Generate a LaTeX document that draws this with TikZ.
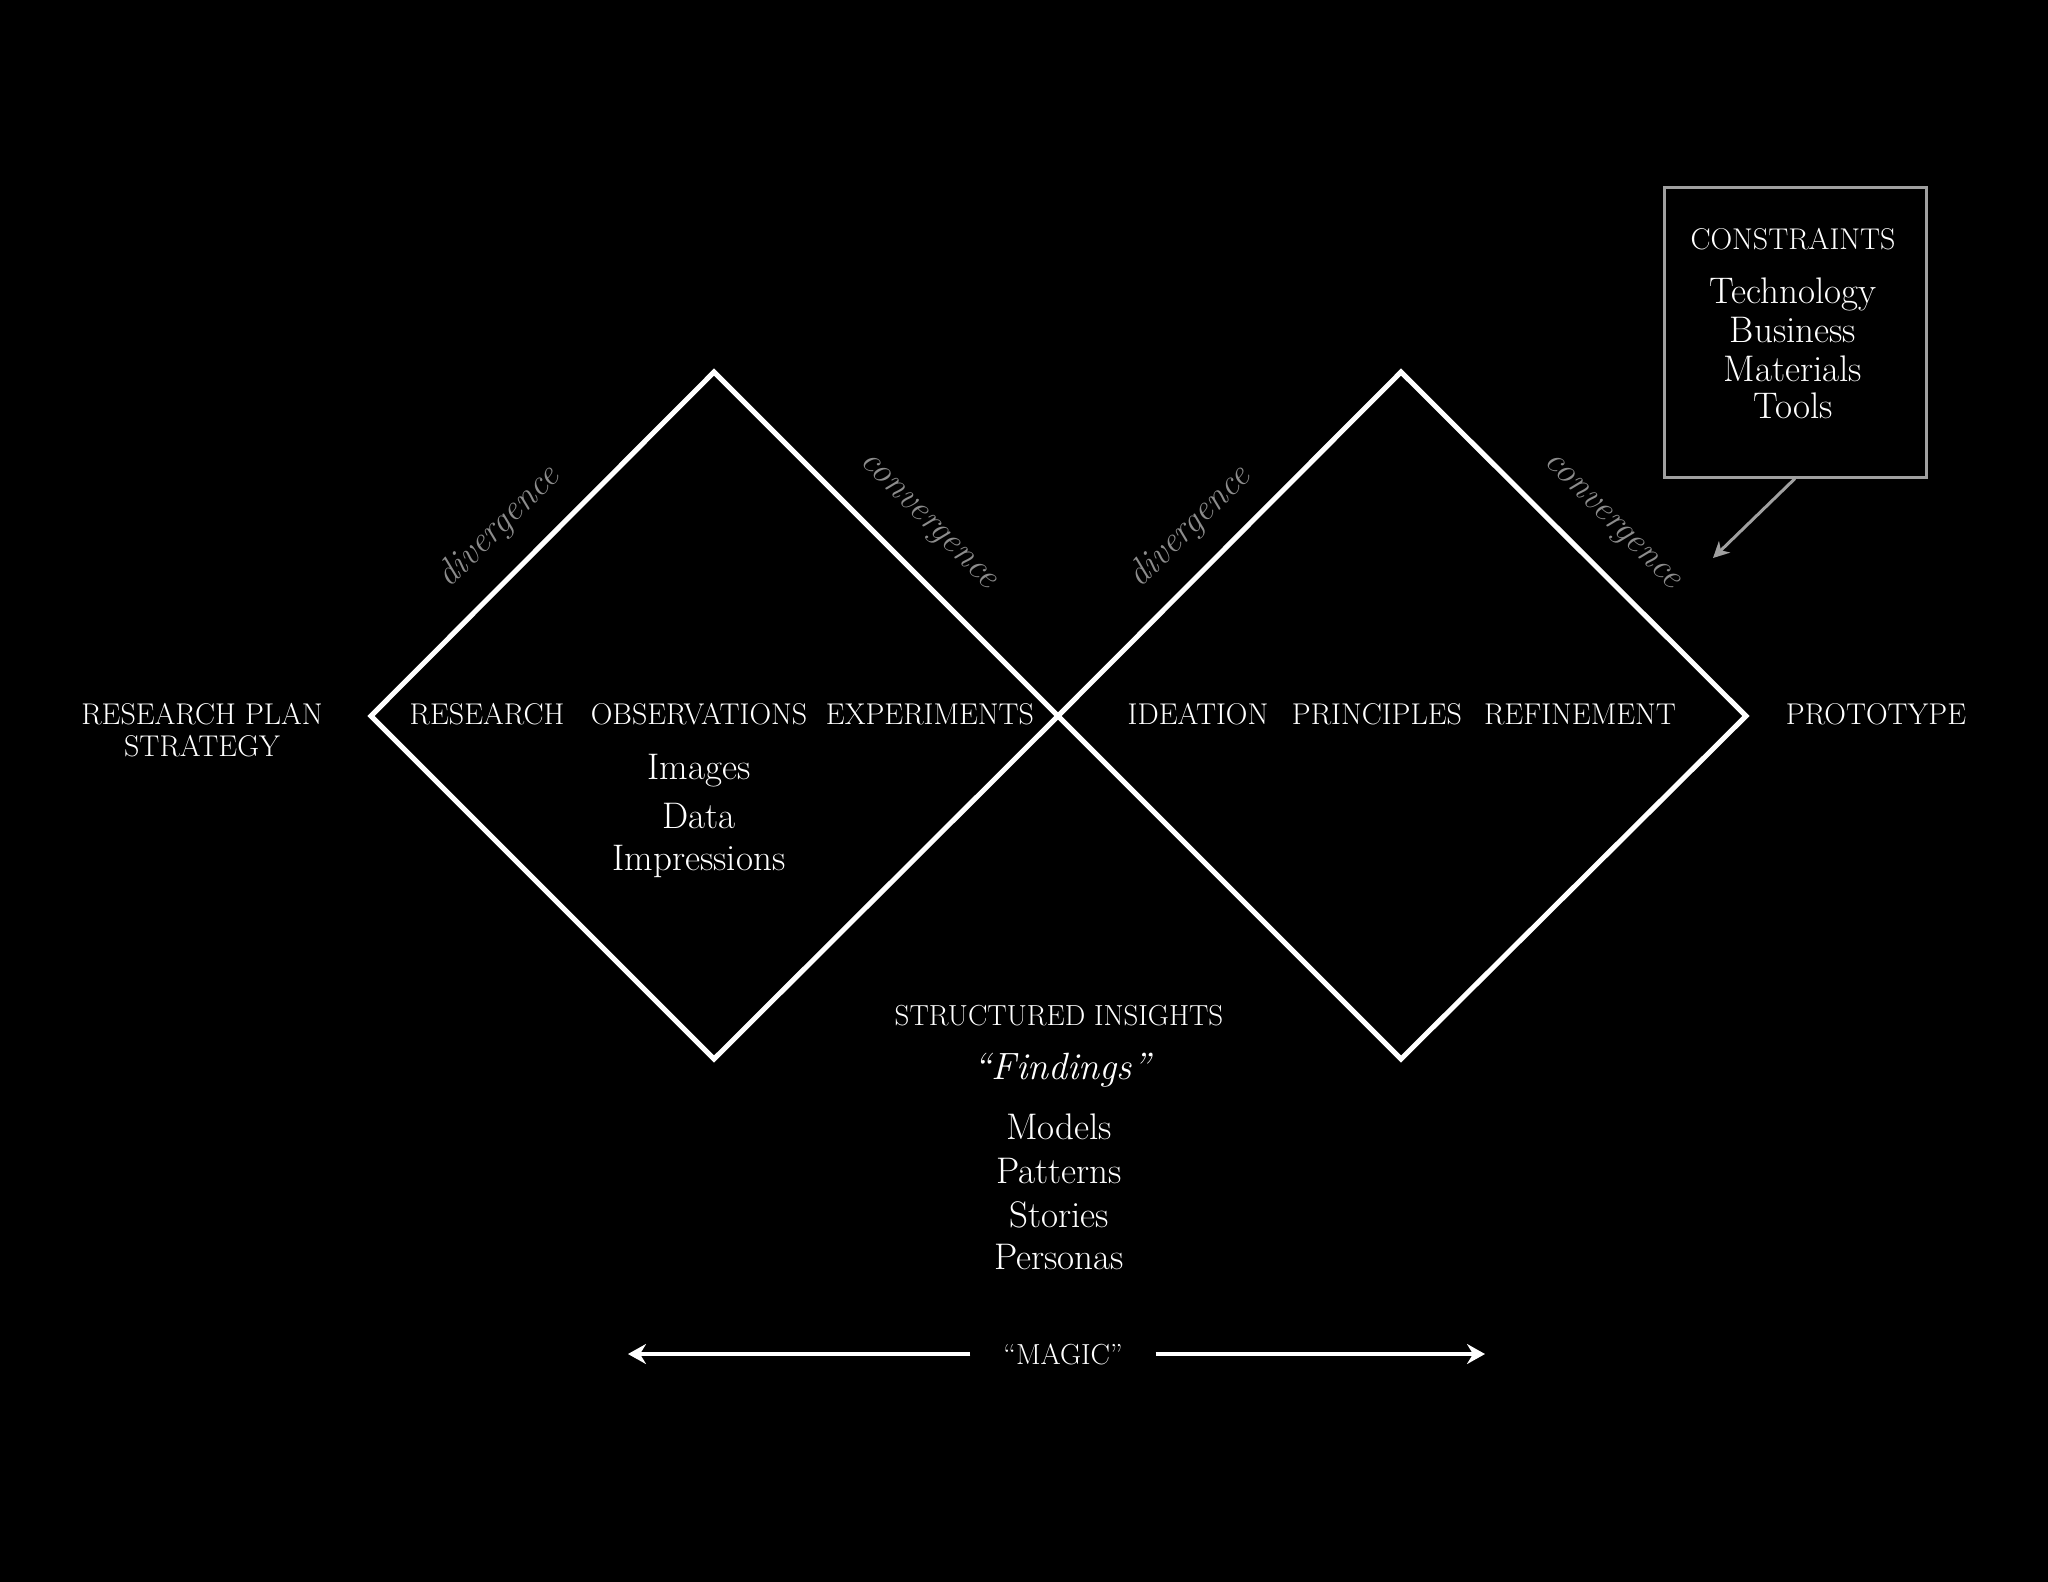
\documentclass[tikz,border=0pt]{standalone}
\usepackage{fontspec}
\usetikzlibrary{arrows.meta}
\definecolor{slantgray}{HTML}{8C8C8C}
\definecolor{boxgray}{HTML}{A0A0A0}
\newcommand\heavier{\addfontfeatures{FakeBold=0.7}}
\begin{document}
\begin{tikzpicture}[x=1pt,y=-1pt,
  txt/.style={text=white,inner sep=0pt,anchor=base},
  capslabel/.style={txt,font=\fontsize{30}{34}\selectfont\heavier},
  itemlabel/.style={txt,font=\fontsize{37}{40}\selectfont\heavier},
  slantlabel/.style={text=slantgray,inner sep=0pt,anchor=center,
    font=\fontsize{36}{40}\selectfont\itshape\addfontfeatures{LetterSpace=13,FakeBold=0.5}},
  diamondline/.style={draw=white,line width=5pt,line join=miter},
  magicarrow/.style={draw=white,line width=4pt,-{Stealth[length=18pt,width=20pt,inset=6pt]}},
  constraintbox/.style={draw=boxgray,line width=3pt,minimum width=262pt,minimum height=290pt,inner sep=0pt},
  constraintarrow/.style={draw=boxgray,line width=3pt,-{Stealth[length=16pt,width=16pt,inset=5pt]}}
]
\useasboundingbox (0,0) rectangle (2048,1582);
\fill[black] (0,0) rectangle (2048,1582);

% diamond vertices
\coordinate (L1) at (371,716);
\coordinate (T1) at (714,372);
\coordinate (M) at (1058,716);
\coordinate (B1) at (714,1059);
\coordinate (T2) at (1401,372);
\coordinate (R2) at (1746,716);
\coordinate (B2) at (1401,1059);

\draw[diamondline] (L1) -- (T1) -- (M) -- (B1) -- cycle;
\draw[diamondline] (M) -- (T2) -- (R2) -- (B2) -- cycle;

% slanted labels
\node[slantlabel,rotate=45] (div1) at (499,527) {divergence};
\node[slantlabel,rotate=-45] (conv1) at (926,523) {convergence};
\node[slantlabel,rotate=45] (div2) at (1190,527) {divergence};
\node[slantlabel,rotate=-45] (conv2) at (1610,523) {convergence};

% left
\node[capslabel] (plan) at (202,724) {RESEARCH PLAN};
\node[capslabel] (strategy) at (202,756) {STRATEGY};

% first diamond
\node[capslabel] (research) at (487,724) {RESEARCH};
\node[capslabel] (observations) at (699,724) {OBSERVATIONS};
\node[capslabel] (experiments) at (930,724) {EXPERIMENTS};
\node[itemlabel] (images) at (699,779) {Images};
\node[itemlabel] (data) at (699,828) {Data};
\node[itemlabel] (impressions) at (699,870) {Impressions};

% second diamond
\node[capslabel] (ideation) at (1198,724) {IDEATION};
\node[capslabel] (principles) at (1377,724) {PRINCIPLES};
\node[capslabel] (refinement) at (1580,724) {REFINEMENT};
\node[capslabel] (prototype) at (1876,724) {PROTOTYPE};

% constraints
\node[constraintbox] (constraints) at (1795,332) {};
\node[capslabel] (ctitle) at (1793,249) {CONSTRAINTS};
\node[itemlabel] (technology) at (1793,303) {Technology};
\node[itemlabel] (business) at (1793,342) {Business};
\node[itemlabel] (materials) at (1793,381) {Materials};
\node[itemlabel] (tools) at (1793,418) {Tools};
\coordinate (ctip) at (1713,558);
\draw[constraintarrow] (constraints.south) -- (ctip);

% structured insights
\node[txt,font=\fontsize{29}{33}\selectfont\heavier] (insights) at (1059,1025) {STRUCTURED INSIGHTS};
\node[txt,font=\fontsize{38}{42}\selectfont\itshape\heavier] (findings) at (1062,1079) {“Findings”};
\node[itemlabel] (models) at (1059,1139) {Models};
\node[itemlabel] (patterns) at (1059,1183) {Patterns};
\node[itemlabel] (stories) at (1059,1227) {Stories};
\node[itemlabel] (personas) at (1059,1269) {Personas};

% magic
\node[text=white,font=\fontsize{29}{33}\selectfont\heavier,inner ysep=0pt,inner xsep=33pt] (magic) at (1063,1354) {“MAGIC”};
\coordinate (magicL) at (628,1354);
\coordinate (magicR) at (1485,1354);
\draw[magicarrow] (magic) -- (magicL);
\draw[magicarrow] (magic) -- (magicR);
\end{tikzpicture}
\end{document}
